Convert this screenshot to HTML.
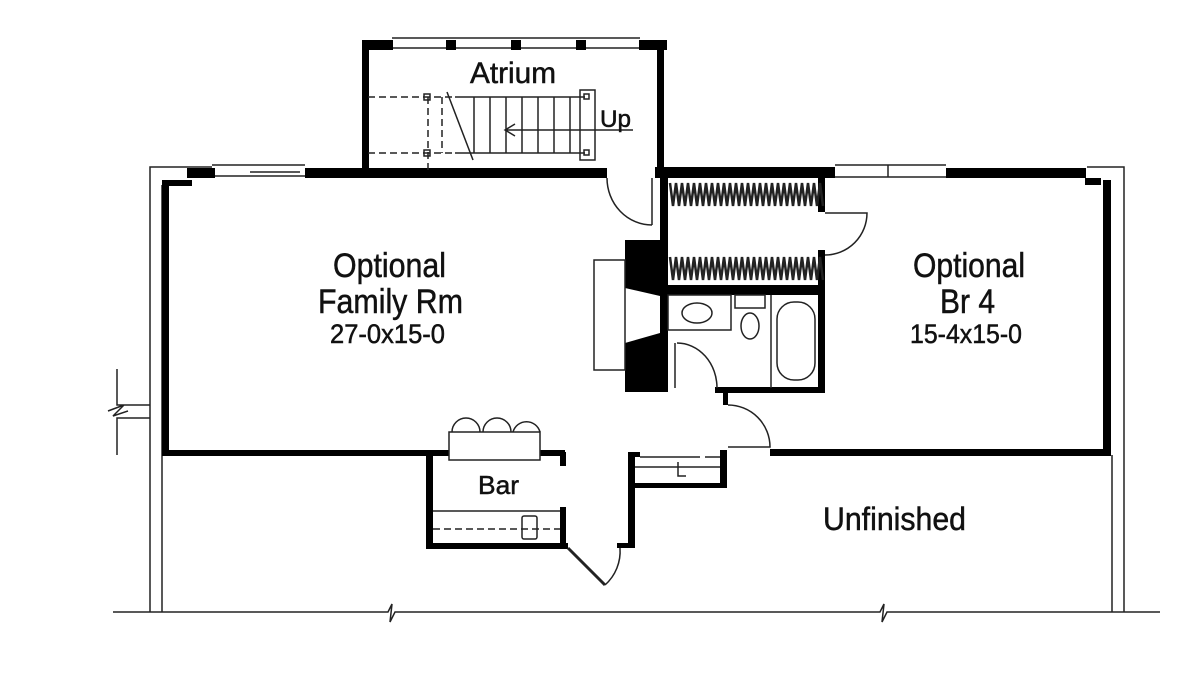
<!DOCTYPE html>
<html><head><meta charset="utf-8"><style>
html,body{margin:0;padding:0;background:#fff;width:1200px;height:697px;overflow:hidden}
text{font-family:"Liberation Sans",Arial,sans-serif;fill:#111;stroke:#111;stroke-width:0.5}
</style></head><body>
<svg width="1200" height="697" viewBox="0 0 1200 697" xmlns="http://www.w3.org/2000/svg">
<g fill="none" stroke="#222" stroke-width="1.5">
<path d="M150 612 V167 H212"/>
<path d="M162 612 V185"/>
<path d="M1087 167 H1124 V612"/>
<path d="M1112 612 V455"/>
<path d="M113 612 H388 L392 604 L390 622 L395 612 H880 L884 604 L882 622 L887 612 H1160"/>
<path d="M117 369 V405 H150 M117 455 V418 H150 M108 411 L124 405 L113 416 L128 411"/>
<path d="M212 165 H305 M212 176 H305 M250 172 H300"/>
<path d="M392 38 H640 M392 48 H640"/>
<path d="M835 165 H946 M835 177 H946 M888 165 V177"/>
</g>
<g fill="#000">
<rect x="187" y="168" width="28" height="10"/>
<rect x="162" y="180" width="30" height="6"/>
<rect x="162" y="180" width="7" height="276"/>
<rect x="305" y="168" width="302" height="10"/>
<rect x="162" y="450" width="403" height="6"/>
<rect x="362" y="40" width="7" height="138"/>
<rect x="362" y="40" width="31" height="10"/>
<rect x="446" y="40" width="10" height="10"/>
<rect x="511" y="40" width="10" height="10"/>
<rect x="576" y="40" width="10" height="10"/>
<rect x="639" y="40" width="28" height="10"/>
<rect x="657" y="40" width="7" height="135"/>
<rect x="655" y="167" width="180" height="11"/>
<rect x="946" y="168" width="140" height="10"/>
<rect x="1085" y="178" width="16" height="7"/>
<rect x="1103" y="180" width="8" height="276"/>
<rect x="770" y="449" width="341" height="7"/>
<rect x="660" y="175" width="8" height="217"/>
<rect x="818" y="178" width="7" height="34"/>
<rect x="818" y="250" width="7" height="142"/>
<rect x="660" y="285" width="165" height="10"/>
<rect x="715" y="387" width="110" height="6"/>
<rect x="723" y="390" width="5" height="15"/>
<path d="M625 240 H660 V296 L625 288 Z"/>
<path d="M625 343 L660 333 V392 H625 Z"/>
<rect x="628" y="452" width="7" height="96"/>
<rect x="628" y="452" width="12" height="5"/>
<rect x="630" y="483" width="97" height="5"/>
<rect x="720" y="450" width="7" height="38"/>
<rect x="617" y="543" width="15" height="5"/>
<rect x="426" y="452" width="7" height="97"/>
<rect x="426" y="543" width="142" height="6"/>
<rect x="560" y="452" width="6" height="14"/>
<rect x="560" y="507" width="6" height="41"/>
</g>
<g fill="none" stroke="#222" stroke-width="1.5">
<path d="M607 178 A45 47 0 0 0 652 225 M652 178 V225"/>
<path d="M825 213 H867 A42 42 0 0 1 825 255"/>
<path d="M675 343 V388 M677 343 A40 45 0 0 1 717 388"/>
<path d="M728 405 A42 42 0 0 1 770 447 H728"/>
<rect x="594" y="260" width="31" height="110"/>
<path d="M670 183 l3 23 l3 -23 l3 23 l3 -23 l3 23 l3 -23 l3 23 l3 -23 l3 23 l3 -23 l3 23 l3 -23 l3 23 l3 -23 l3 23 l3 -23 l3 23 l3 -23 l3 23 l3 -23 l3 23 l3 -23 l3 23 l3 -23 l3 23 l3 -23 l3 23 l3 -23 l3 23 l3 -23 l3 23 l3 -23 l3 23 l3 -23 l3 23 l3 -23 l3 23 l3 -23 l3 23 l3 -23 l3 23 l3 -23 l3 23 l3 -23 l3 23 l3 -23 l3 23 l3 -23 l3 23 l3 -23 l3 23" stroke-width="2.5"/>
<path d="M670 257 l3 23 l3 -23 l3 23 l3 -23 l3 23 l3 -23 l3 23 l3 -23 l3 23 l3 -23 l3 23 l3 -23 l3 23 l3 -23 l3 23 l3 -23 l3 23 l3 -23 l3 23 l3 -23 l3 23 l3 -23 l3 23 l3 -23 l3 23 l3 -23 l3 23 l3 -23 l3 23 l3 -23 l3 23 l3 -23 l3 23 l3 -23 l3 23 l3 -23 l3 23 l3 -23 l3 23 l3 -23 l3 23 l3 -23 l3 23 l3 -23 l3 23 l3 -23 l3 23 l3 -23 l3 23 l3 -23 l3 23" stroke-width="2.5"/>
<rect x="668" y="295" width="63" height="35"/>
<ellipse cx="697" cy="313" rx="15" ry="10"/>
<rect x="735" y="295" width="30" height="13"/>
<ellipse cx="750" cy="326" rx="9" ry="13"/>
<path d="M771 295 V388"/>
<rect x="777" y="302" width="38" height="78" rx="17"/>
<path d="M635 467 H720 M678 462 V476 H686 M640 457 H700 M705 457 H720"/>
<rect x="449" y="432" width="91" height="28" fill="#fff"/>
<path d="M452 432 A14 14 0 0 1 480 432 M483 432 A14 14 0 0 1 511 432 M513 432 A14 14 0 0 1 540 432"/>
<path d="M433 511 H560"/>
<path d="M433 529 H560" stroke-dasharray="7 4"/>
<rect x="522" y="516" width="15" height="23" rx="2"/>
<path d="M568 548 L605 585" stroke-width="3"/>
<path d="M605 585 A45 45 0 0 0 620 548"/>
<path d="M455 97 H585 M455 153 H585"/>
<path d="M474 97 V153 M490 97 V153 M506 97 V153 M522 97 V153 M538 97 V153 M554 97 V153 M570 97 V153"/>
<rect x="580" y="90" width="15" height="70"/>
<rect x="584" y="94" width="5" height="5"/><rect x="584" y="150" width="5" height="5"/>
<path d="M368 97 H455 M368 153 H455 M428 97 V170 M442 97 V153" stroke-dasharray="7 4"/>
<rect x="424" y="94" width="6" height="6"/><rect x="424" y="150" width="6" height="6"/>
<path d="M447 92 L473 160"/>
<path d="M505 130 H633 M515 124 L505 130 L515 136"/>
</g>
<text x="470" y="83" font-size="30" textLength="86" lengthAdjust="spacingAndGlyphs">Atrium</text>
<text x="600" y="127" font-size="24" textLength="31" lengthAdjust="spacingAndGlyphs">Up</text>
<text x="333" y="277" font-size="34" textLength="113" lengthAdjust="spacingAndGlyphs">Optional</text>
<text x="318" y="313" font-size="34" textLength="145" lengthAdjust="spacingAndGlyphs">Family Rm</text>
<text x="330" y="343" font-size="27" textLength="115" lengthAdjust="spacingAndGlyphs">27-0x15-0</text>
<text x="913" y="277" font-size="34" textLength="112" lengthAdjust="spacingAndGlyphs">Optional</text>
<text x="940" y="313" font-size="34" textLength="55" lengthAdjust="spacingAndGlyphs">Br 4</text>
<text x="910" y="343" font-size="27" textLength="112" lengthAdjust="spacingAndGlyphs">15-4x15-0</text>
<text x="478" y="494" font-size="26" textLength="41" lengthAdjust="spacingAndGlyphs">Bar</text>
<text x="823" y="530" font-size="32" textLength="143" lengthAdjust="spacingAndGlyphs">Unfinished</text>
</svg>
</body></html>
